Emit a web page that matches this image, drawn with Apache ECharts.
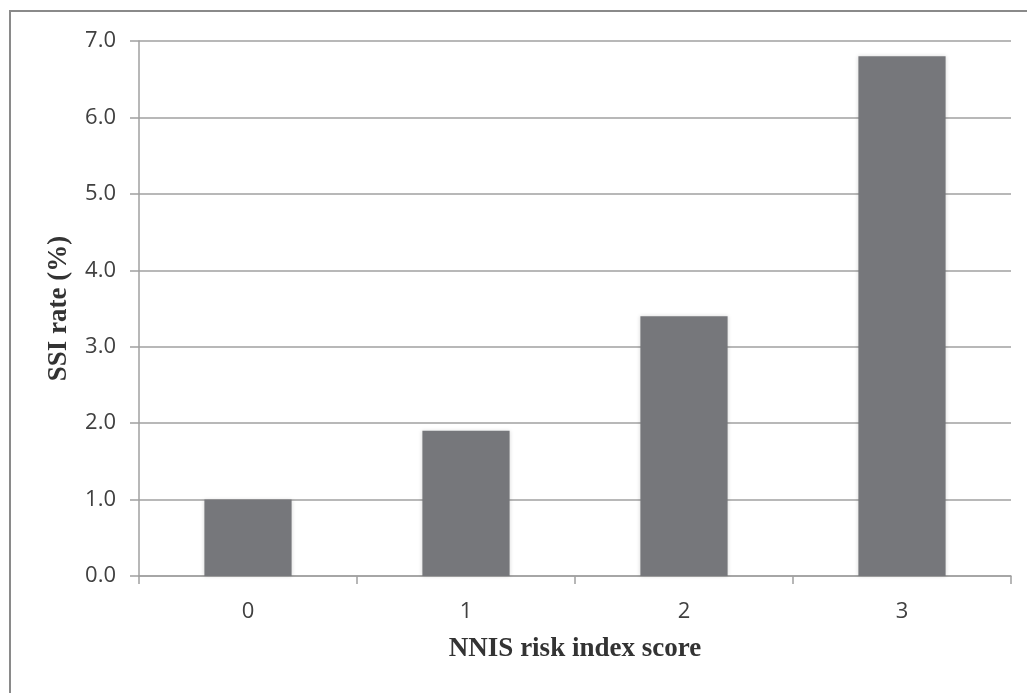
<!DOCTYPE html>
<html>
<head>
<meta charset="utf-8">
<script src="https://cdn.jsdelivr.net/npm/echarts@6/dist/echarts.min.js"></script>
<style>
html,body{margin:0;padding:0;background:#fff;}
#chart{width:1027px;height:693px;}
</style>
</head>
<body>
<div id="chart"></div>
<script>
const categories = ['0', '1', '2', '3'];
const ssiRate = [1.0, 1.9, 3.4, 6.8];
const yTitle = 'SSI rate (%)';
const xTitle = 'NNIS risk index score';

const chart = echarts.init(document.getElementById('chart'));
chart.setOption({
  animation: false,
  backgroundColor: '#ffffff',
  graphic: [{
    type: 'polyline',
    shape: { points: [[10, 693], [10, 11], [1027, 11]] },
    style: { stroke: '#8a8a8a', lineWidth: 2, fill: null }
  }],
  grid: { left: 139, right: 16, top: 41, bottom: 117, containLabel: false },
  xAxis: {
    type: 'category',
    data: categories,
    name: xTitle,
    nameLocation: 'middle',
    nameGap: 60,
    nameTextStyle: { fontFamily: 'Liberation Serif', fontWeight: 'bold', fontSize: 27, color: '#333333' },
    axisLine: { lineStyle: { color: '#a0a0a0', width: 1.5 } },
    axisTick: { show: true, length: 8, lineStyle: { color: '#a0a0a0', width: 1.5 } },
    axisLabel: { fontFamily: 'Open Sans', fontSize: 22, color: '#404040', margin: 25 }
  },
  yAxis: {
    type: 'value',
    min: 0, max: 7, interval: 1,
    name: yTitle,
    nameLocation: 'middle',
    nameGap: 66,
    nameTextStyle: { fontFamily: 'Liberation Serif', fontWeight: 'bold', fontSize: 27, color: '#333333' },
    axisLine: { show: true, lineStyle: { color: '#a0a0a0', width: 1.5 } },
    axisTick: { show: true, length: 9, lineStyle: { color: '#a0a0a0', width: 1.5 } },
    axisLabel: { fontFamily: 'Open Sans', fontSize: 22, color: '#404040', margin: 23,
      formatter: v => v.toFixed(1) },
    splitLine: { lineStyle: { color: '#a0a0a0', width: 1.5 } }
  },
  series: [{
    type: 'bar',
    data: ssiRate,
    barWidth: '40%',
    itemStyle: { color: '#76777b', shadowBlur: 4, shadowColor: 'rgba(0,0,0,0.15)' }
  }]
});
</script>
</body>
</html>
